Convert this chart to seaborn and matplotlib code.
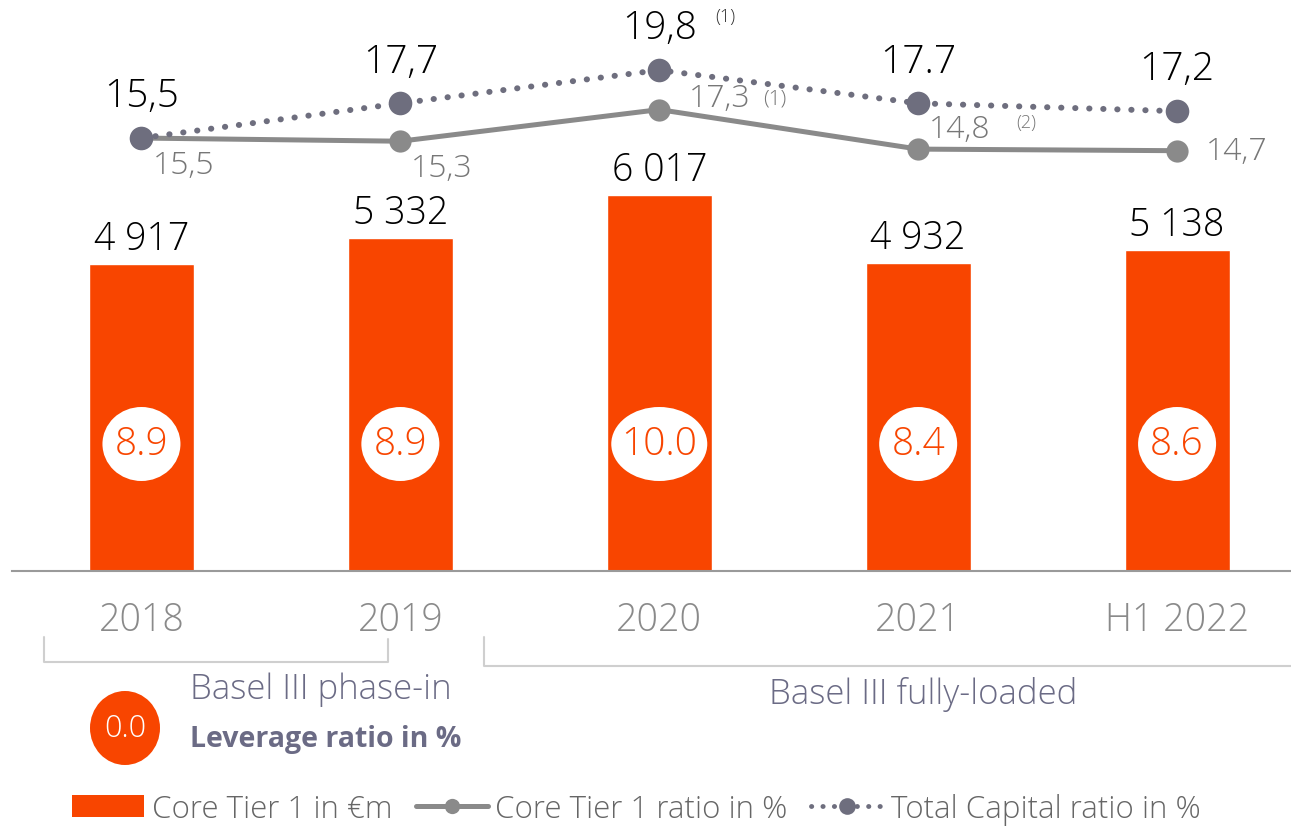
import numpy as np
import pandas as pd
import matplotlib.pyplot as plt
import seaborn as sns
from matplotlib.patches import Ellipse, Patch
from matplotlib.lines import Line2D

periods = ['2018', '2019', '2020', '2021', 'H1 2022']
core_tier1 = [4917, 5332, 6017, 4932, 5138]
core_tier1_labels = ['4 917', '5 332', '6 017', '4 932', '5 138']
ct1_ratio = [15.5, 15.3, 17.3, 14.8, 14.7]
ct1_ratio_labels = ['15,5', '15,3', '17,3', '14,8', '14,7']
total_capital = [15.5, 17.7, 19.8, 17.7, 17.2]
total_capital_labels = ['15,5', '17,7', '19,8', '17.7', '17,2']
leverage = ['8.9', '8.9', '10.0', '8.4', '8.6']

ORANGE = '#F84500'
GRAY_LINE = '#8a8a8a'
DARK_DOT = '#6e6e7e'
PURPLE_TXT = '#6b6b85'
LIGHT = 'light'

sns.set_style('white')
plt.rcParams['font.family'] = ['Open Sans', 'DejaVu Sans']

W, H = 1291, 828
fig = plt.figure(figsize=(W / 100, H / 100), dpi=100)
ax = fig.add_axes([12 / W, 1 - 572 / H, 1 - 12 / W, 572 / H])

df = pd.DataFrame({'period': periods, 'cet1': core_tier1})
sns.barplot(data=df, x='period', y='cet1', color=ORANGE, saturation=1,
            width=0.405, ax=ax)
ax.set_xlim(-0.5, 4.44)
ax.set_ylim(0, 9150)
ax.set_xlabel('')
ax.set_ylabel('')
ax.set_yticks([])
for s in ['top', 'right', 'left']:
    ax.spines[s].set_visible(False)
ax.spines['bottom'].set_color('#9a9a9a')
ax.spines['bottom'].set_linewidth(1.5)
ax.tick_params(axis='x', length=0, pad=21, labelsize=27, labelcolor='#8a8a8a')
for t in ax.get_xticklabels():
    t.set_fontweight(LIGHT)

# px per data unit, used to size the white circles
px_x = (W - 12) / 4.94
px_y = 572 / 9150

for i, (v, lab, lev) in enumerate(zip(core_tier1, core_tier1_labels, leverage)):
    ax.annotate(lab, (i, v), xytext=(0, 6), textcoords='offset pixels',
                ha='center', va='bottom', fontsize=27, fontweight=LIGHT, color='black')
    w = 78 if len(lev) == 3 else 96
    ax.add_patch(Ellipse((i, 127 / px_y), w / px_x, 74 / px_y,
                         facecolor='white', edgecolor='none', zorder=3))
    ax.text(i, 127 / px_y, lev, ha='center', va='center', fontsize=28,
            fontweight=LIGHT, color=ORANGE, zorder=4)

# ratios on a twin axis
ax2 = ax.twinx()
xs = np.arange(len(periods))
sns.lineplot(x=xs, y=ct1_ratio, ax=ax2, color=GRAY_LINE, linewidth=3.6,
             marker='o', markersize=16, markeredgewidth=0)
sns.lineplot(x=xs, y=total_capital, ax=ax2, color=DARK_DOT, linewidth=4.3,
             linestyle=(0, (0.05, 2.3)), dash_capstyle='round',
             marker='o', markersize=17, markeredgewidth=0)
ax2.set_ylim(-11.9, 24.3)
ax2.set_yticks([])
ax2.set_xlim(-0.5, 4.44)
for s in ax2.spines.values():
    s.set_visible(False)

for i, (v, lab) in enumerate(zip(total_capital, total_capital_labels)):
    ax2.annotate(lab, (i, v), xytext=(0, 42), textcoords='offset pixels',
                 ha='center', va='center', fontsize=28, fontweight=LIGHT, color='black')
ax2.annotate('(1)', (2, total_capital[2]), xytext=(66, 54), textcoords='offset pixels',
             ha='center', va='center', fontsize=13, fontweight=LIGHT, color='#333333')

ct1_offsets = [(42, -27, 'center'), (41, -27, 'center'), (30, 12, 'left'),
               (11, 20, 'left'), (29, 0, 'left')]
for i, (v, lab) in enumerate(zip(ct1_ratio, ct1_ratio_labels)):
    dx, dy, ha = ct1_offsets[i]
    ax2.annotate(lab, (i, v), xytext=(dx, dy), textcoords='offset pixels',
                 ha=ha, va='center', fontsize=23, fontweight=LIGHT, color='#777777')
ax2.annotate('(1)', (2, ct1_ratio[2]), xytext=(104, 11), textcoords='offset pixels',
             ha='left', va='center', fontsize=15, fontweight=LIGHT, color='#777777')
ax2.annotate('(2)', (3, ct1_ratio[3]), xytext=(98, 27), textcoords='offset pixels',
             ha='left', va='center', fontsize=13, fontweight=LIGHT, color='#777777')


def fx(px):
    return px / W


def fy(py):
    return 1 - py / H


# brackets under the period labels
br = dict(color='#cfcfcf', linewidth=1.5, transform=fig.transFigure)
fig.add_artist(Line2D([fx(44), fx(44), fx(388), fx(388)],
                      [fy(638), fy(663), fy(663), fy(640)], **br))
fig.add_artist(Line2D([fx(484), fx(484), fx(1291)],
                      [fy(638), fy(667), fy(667)], **br))

fig.text(fx(190), fy(690), 'Basel III phase-in', ha='left', va='center',
         fontsize=25, fontweight=LIGHT, color=PURPLE_TXT)
fig.text(fx(190), fy(740), 'Leverage ratio in %', ha='left', va='center',
         fontsize=20.5, fontweight='bold', color=PURPLE_TXT)
fig.text(fx(923), fy(695), 'Basel III fully-loaded', ha='center', va='center',
         fontsize=25, fontweight=LIGHT, color=PURPLE_TXT)

# legend circle for leverage ratio
fig.add_artist(Ellipse((fx(125), fy(729)), 70 / W, 74 / H, transform=fig.transFigure,
                       facecolor=ORANGE, edgecolor='none'))
fig.text(fx(125), fy(729), '0.0', ha='center', va='center', fontsize=22,
         fontweight=LIGHT, color='white')

handles = [
    Patch(facecolor=ORANGE, edgecolor='none'),
    Line2D([], [], color=GRAY_LINE, linewidth=3.6, marker='o', markersize=11,
           markeredgewidth=0),
    Line2D([], [], color=DARK_DOT, linewidth=3.5, linestyle=(0, (0.05, 2.3)),
           dash_capstyle='round', marker='o', markersize=12, markeredgewidth=0),
]
labels = ['Core Tier 1 in €m', 'Core Tier 1 ratio in %', 'Total Capital ratio in %']
leg = fig.legend(handles, labels, loc='center left', bbox_to_anchor=(fx(72), fy(810)),
                 ncol=3, frameon=False, fontsize=22.5, handlelength=2.3,
                 handletextpad=0.25, columnspacing=0.75, borderpad=0,
                 borderaxespad=0, numpoints=1)
for t in leg.get_texts():
    t.set_color('#666666')
    t.set_fontweight(LIGHT)

fig.savefig('out.png', dpi=100)
